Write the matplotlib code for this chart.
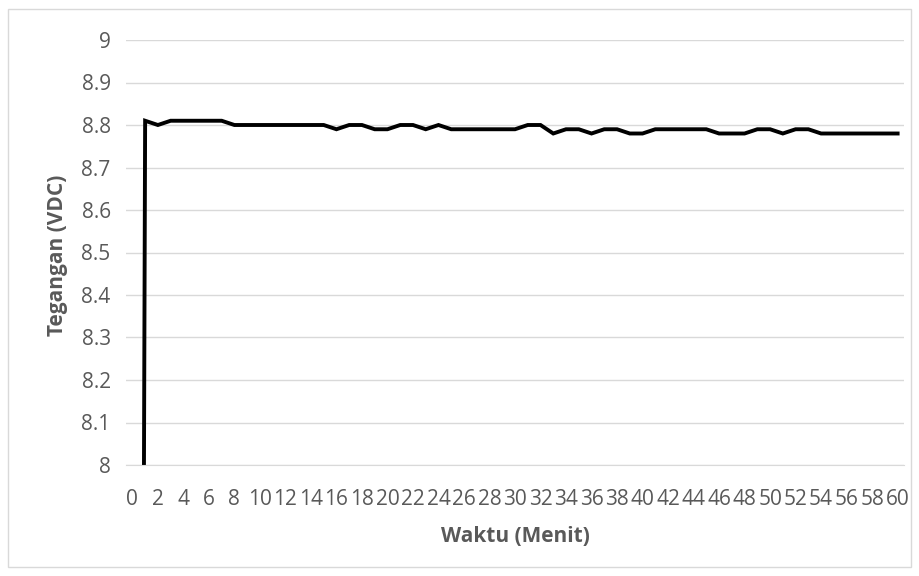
import numpy as np
import matplotlib
matplotlib.use('Agg')
import matplotlib.pyplot as plt
from matplotlib.patches import Rectangle

plt.rcParams['font.family'] = ['Open Sans', 'DejaVu Sans']

# waktu (menit) 0..60, tegangan (VDC); menit 0 starts from 0 V
waktu = list(range(61))
tegangan = [0.0,
            8.81, 8.80, 8.81, 8.81, 8.81, 8.81, 8.81, 8.80, 8.80, 8.80,
            8.80, 8.80, 8.80, 8.80, 8.80, 8.79, 8.80, 8.80, 8.79, 8.79,
            8.80, 8.80, 8.79, 8.80, 8.79, 8.79, 8.79, 8.79, 8.79, 8.79,
            8.80, 8.80, 8.78, 8.79, 8.79, 8.78, 8.79, 8.79, 8.78, 8.78,
            8.79, 8.79, 8.79, 8.79, 8.79, 8.78, 8.78, 8.78, 8.79, 8.79,
            8.78, 8.79, 8.79, 8.78, 8.78, 8.78, 8.78, 8.78, 8.78, 8.78]
y_ticks = [8, 8.1, 8.2, 8.3, 8.4, 8.5, 8.6, 8.7, 8.8, 8.9, 9]
y_labels = ['8', '8.1', '8.2', '8.3', '8.4', '8.5', '8.6', '8.7', '8.8', '8.9', '9']

grey = '#595959'
grid = '#d9d9d9'
W, H = 919, 576

fig = plt.figure(figsize=(W / 100, H / 100), dpi=100)
fig.patches.append(Rectangle((8 / W, 9 / H), 903 / W, 558 / H,
                             transform=fig.transFigure, fill=False,
                             edgecolor=grid, linewidth=1))

ax = fig.add_axes([126 / W, 1 - 465 / H, 778 / W, 425 / H])
ax.plot(waktu, tegangan, color='black', linewidth=2.8, solid_joinstyle='miter')

ax.set_xlim(-0.5, 60.5)
ax.set_ylim(8, 9)
ax.set_xticks(waktu[::2])
ax.set_xticklabels([str(w) for w in waktu[::2]])
ax.set_yticks(y_ticks)
ax.set_yticklabels(y_labels)
ax.tick_params(length=0, labelsize=15, labelcolor=grey)
ax.tick_params(axis='y', pad=11)
ax.tick_params(axis='x', pad=17)

for s in ['top', 'right', 'left']:
    ax.spines[s].set_visible(False)
ax.spines['bottom'].set_color(grid)
ax.grid(axis='y', color=grid, linewidth=1)
ax.set_axisbelow(True)

fig.text(515 / W, 1 - 542 / H, 'Waktu (Menit)', fontsize=15, fontweight='bold',
         color=grey, ha='center', va='baseline')
fig.text(57 / W, 1 - 255 / H, 'Tegangan (VDC)', fontsize=15, fontweight='bold',
         color=grey, ha='center', va='center', rotation=90)

fig.savefig('out.png', dpi=100)
